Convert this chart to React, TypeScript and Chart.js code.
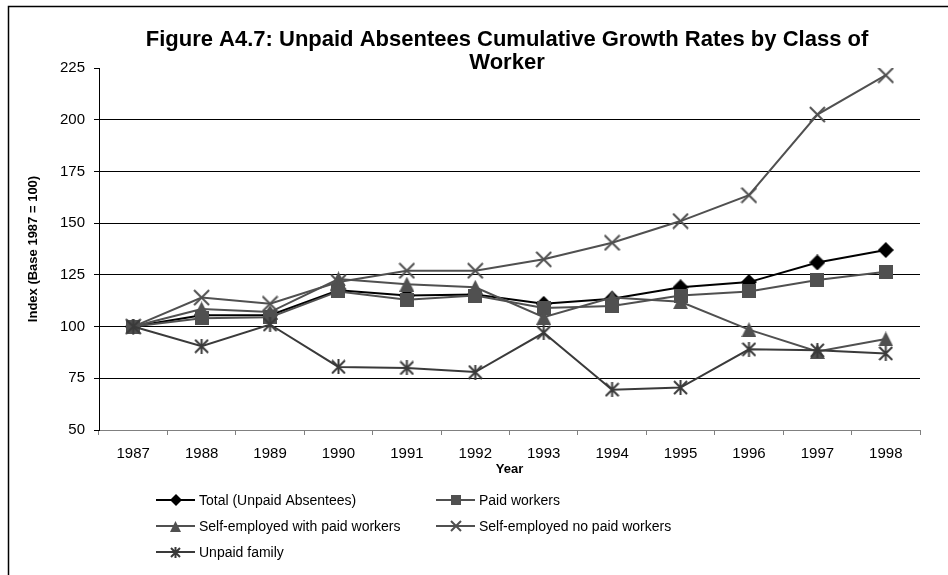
import React, { useEffect, useRef } from "react";
import { Chart, registerables } from "chart.js";

Chart.register(...registerables);

const years = ["1987", "1988", "1989", "1990", "1991", "1992", "1993", "1994", "1995", "1996", "1997", "1998"];
const totalUnpaid = [100, 105.5, 105.5, 117.5, 115, 115.5, 111, 113.5, 119, 121.5, 131, 137];
const paidWorkers = [100, 104, 104.5, 117, 113, 115, 109, 110, 115, 117, 122.5, 126.5];
const selfWithPaid = [100, 108.5, 107, 123, 120.5, 119, 104.5, 114, 112, 98.5, 88, 94];
const selfNoPaid = [100, 114, 111, 121.5, 127, 127, 132.5, 140.5, 151, 163.5, 202.5, 221.5];
const unpaidFamily = [100, 90.5, 101, 80.5, 80, 78, 97, 69.5, 70.5, 89, 88.5, 87];
const yTicks = [50, 75, 100, 125, 150, 175, 200, 225];

const titleLines = ["Figure A4.7: Unpaid Absentees Cumulative Growth Rates by Class of", "Worker"];
const FONT = "'Liberation Sans', Arial, sans-serif";
const GRAY = "#505050";
const DARK = "#3a3a3a";

function makeMarker(kind: string, size: number, color: string): HTMLCanvasElement {
  const c = document.createElement("canvas");
  c.width = size;
  c.height = size;
  const g = c.getContext("2d")!;
  const s = size;
  g.fillStyle = color;
  g.strokeStyle = color;
  g.lineWidth = 2;
  g.lineCap = "butt";
  if (kind === "diamond") {
    g.beginPath();
    g.moveTo(s / 2, 0);
    g.lineTo(s, s / 2);
    g.lineTo(s / 2, s);
    g.lineTo(0, s / 2);
    g.closePath();
    g.fill();
  } else if (kind === "square") {
    g.fillRect(0, 0, s, s);
  } else if (kind === "triangle") {
    g.beginPath();
    g.moveTo(s / 2, 0);
    g.lineTo(s, s);
    g.lineTo(0, s);
    g.closePath();
    g.fill();
  } else if (kind === "x") {
    g.beginPath();
    g.moveTo(1, 1);
    g.lineTo(s - 1, s - 1);
    g.moveTo(s - 1, 1);
    g.lineTo(1, s - 1);
    g.stroke();
  } else if (kind === "star") {
    g.beginPath();
    g.moveTo(1, 1);
    g.lineTo(s - 1, s - 1);
    g.moveTo(s - 1, 1);
    g.lineTo(1, s - 1);
    g.moveTo(s / 2, 0);
    g.lineTo(s / 2, s);
    g.stroke();
  }
  return c;
}

export default function App() {
  const ref = useRef<HTMLCanvasElement | null>(null);

  useEffect(() => {
    const canvas = ref.current;
    if (!canvas) return;

    const markers = {
      diamond: makeMarker("diamond", 16, "#000"),
      square: makeMarker("square", 14, GRAY),
      triangle: makeMarker("triangle", 15, GRAY),
      x: makeMarker("x", 17, GRAY),
      star: makeMarker("star", 15, DARK),
    };
    const legendMarkers = {
      diamond: makeMarker("diamond", 12, "#000"),
      square: makeMarker("square", 10, GRAY),
      triangle: makeMarker("triangle", 11, GRAY),
      x: makeMarker("x", 12, GRAY),
      star: makeMarker("star", 11, DARK),
    };

    const series = [
      { label: "Total (Unpaid Absentees)", data: totalUnpaid, color: "#000", m: "diamond", order: 5 },
      { label: "Paid workers", data: paidWorkers, color: GRAY, m: "square", order: 4 },
      { label: "Self-employed with paid workers", data: selfWithPaid, color: GRAY, m: "triangle", order: 3 },
      { label: "Self-employed no paid workers", data: selfNoPaid, color: GRAY, m: "x", order: 2 },
      { label: "Unpaid family", data: unpaidFamily, color: DARK, m: "star", order: 1 },
    ];

    const framePlugin = {
      id: "frameTitleLegend",
      beforeDraw(chart: any) {
        const ctx = chart.ctx;
        ctx.save();
        ctx.fillStyle = "#fff";
        ctx.fillRect(0, 0, chart.width, chart.height);
        ctx.strokeStyle = "#000";
        ctx.lineWidth = 1.5;
        ctx.strokeRect(8.5, 6.5, 2000, 2000);
        ctx.restore();
      },
      afterDraw(chart: any) {
        const ctx = chart.ctx;
        ctx.save();
        // title
        ctx.fillStyle = "#000";
        ctx.font = `bold 22px ${FONT}`;
        ctx.textAlign = "center";
        ctx.textBaseline = "middle";
        ctx.fillText(titleLines[0], 507, 40);
        ctx.fillText(titleLines[1], 507, 63);
        // legend
        const cols = [156, 436];
        const rows = [500, 526, 552];
        ctx.font = `14px ${FONT}`;
        ctx.textAlign = "left";
        series.forEach((s, i) => {
          const x = cols[i % 2];
          const y = rows[Math.floor(i / 2)];
          ctx.strokeStyle = s.color;
          ctx.lineWidth = 2;
          ctx.beginPath();
          ctx.moveTo(x, y);
          ctx.lineTo(x + 39, y);
          ctx.stroke();
          const img = (legendMarkers as any)[s.m] as HTMLCanvasElement;
          ctx.drawImage(img, Math.round(x + 19.5 - img.width / 2), Math.round(y - img.height / 2));
          ctx.fillStyle = "#000";
          ctx.fillText(s.label, x + 43, y + 1);
        });
        ctx.restore();
      },
    };

    const chart = new Chart(canvas, {
      type: "line",
      data: {
        labels: years,
        datasets: series.map((s) => ({
          label: s.label,
          data: s.data,
          borderColor: s.color,
          backgroundColor: s.color,
          borderWidth: 2,
          pointStyle: (markers as any)[s.m],
          pointRadius: 7,
          pointHoverRadius: 7,
          tension: 0,
          fill: false,
          order: s.order,
        })),
      },
      options: {
        animation: false,
        responsive: false,
        maintainAspectRatio: false,
        events: [],
        layout: { padding: { left: 20, right: 28, top: 68, bottom: 95 } },
        plugins: {
          legend: { display: false },
          title: { display: false },
          tooltip: { enabled: false },
        },
        scales: {
          x: {
            type: "category",
            offset: true,
            grid: {
              offset: true,
              drawOnChartArea: false,
              drawTicks: true,
              tickLength: 5,
              tickColor: "#808080",
            },
            border: { display: true, color: "#808080", width: 1 },
            ticks: {
              color: "#000",
              font: { family: FONT, size: 15 },
              padding: 10,
              maxRotation: 0,
              autoSkip: false,
            },
            title: {
              display: true,
              text: "Year",
              color: "#000",
              font: { family: FONT, size: 13, weight: "bold" },
              padding: { top: 0, bottom: 3 },
            },
            afterFit(scale: any) {
              scale.height = 50;
            },
          },
          y: {
            min: 50,
            max: 225,
            afterBuildTicks(scale: any) {
              scale.ticks = yTicks.map((v) => ({ value: v }));
            },
            grid: {
              color: (ctx: any) =>
                ctx.tick && (ctx.tick.value === 225 || ctx.tick.value === 50) ? "rgba(0,0,0,0)" : "#000",
              tickColor: "#000",
              tickLength: 5,
              lineWidth: 1,
            },
            border: { display: true, color: "#000", width: 1 },
            ticks: {
              color: "#000",
              font: { family: FONT, size: 15 },
              padding: 9,
            },
            title: {
              display: true,
              text: "Index (Base 1987 = 100)",
              color: "#000",
              font: { family: FONT, size: 13, weight: "bold" },
              padding: { top: 6, bottom: 0 },
            },
            afterFit(scale: any) {
              scale.width = 79;
            },
          },
        },
      },
      plugins: [framePlugin],
    });

    return () => chart.destroy();
  }, []);

  return (
    <div style={{ position: "fixed", left: 0, top: 0, width: 948, height: 575 }}>
      <canvas ref={ref} width={948} height={575} style={{ width: 948, height: 575, display: "block" }} />
    </div>
  );
}
